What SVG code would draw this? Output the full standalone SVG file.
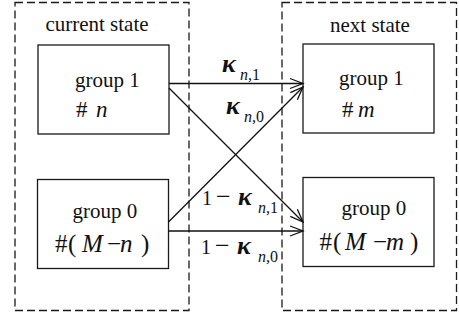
<svg xmlns="http://www.w3.org/2000/svg" width="459" height="320" viewBox="0 0 459 320" font-family="'Liberation Serif', 'DejaVu Serif', 'Times New Roman', serif">
<style>
.frame{fill:none;stroke:#1a1a1a;stroke-width:1.3;stroke-dasharray:8,4}
.box{fill:#fff;stroke:#1a1a1a;stroke-width:1.3}
text{font-family:'Liberation Serif','DejaVu Serif',serif;fill:#111}
.lab{font-size:21px}
.it{font-style:italic}
.k{font-style:italic;font-weight:bold;font-size:26px}
.sub{font-style:italic;font-size:16px}
.conn{stroke:#111;stroke-width:1.3;fill:none;marker-end:url(#arr)}
</style>
<defs>
<marker id="arr" markerUnits="userSpaceOnUse" markerWidth="16" markerHeight="14" viewBox="-14 -7 16 14" refX="0" refY="0" orient="auto">
<path d="M-13,-5 L0,0 L-13,5" fill="none" stroke="#111" stroke-width="1.3"/>
</marker>
</defs>
<g id="current-state">
<rect class="frame" x="15" y="2.5" width="174" height="308"/>
<text class="lab" x="97" y="31" text-anchor="middle">current state</text>
</g>
<g id="next-state">
<rect class="frame" x="282" y="2.5" width="174.5" height="308"/>
<text class="lab" x="370" y="32" text-anchor="middle">next state</text>
</g>
<g id="cur-group1">
<rect class="box" x="38" y="45" width="131" height="89"/>
<text class="lab" x="75" y="87">group 1</text>
<text font-size="23" y="117"><tspan x="76">#</tspan><tspan x="96" class="it">n</tspan></text>
</g>
<g id="cur-group0">
<rect class="box" x="37.5" y="179.5" width="131" height="89"/>
<text class="lab" x="72.5" y="218">group 0</text>
<text font-size="25" y="252"><tspan x="55">#</tspan><tspan x="68">(</tspan><tspan x="82" class="it">M</tspan><tspan x="107">−</tspan><tspan x="120" class="it">n</tspan><tspan x="141">)</tspan></text>
</g>
<g id="next-group1">
<rect class="box" x="303" y="44" width="131" height="89"/>
<text class="lab" x="339" y="85">group 1</text>
<text font-size="23" y="117"><tspan x="342">#</tspan><tspan x="358" class="it">m</tspan></text>
</g>
<g id="next-group0">
<rect class="box" x="303" y="177.5" width="131" height="89"/>
<text class="lab" x="341.5" y="215">group 0</text>
<text font-size="25" y="250"><tspan x="319.5">#</tspan><tspan x="333">(</tspan><tspan x="345" class="it">M</tspan><tspan x="373">−</tspan><tspan x="386" class="it">m</tspan><tspan x="410">)</tspan></text>
</g>
<g id="connectors">
<line class="conn" x1="169" y1="83.5" x2="303" y2="83.5"/>
<line class="conn" x1="169" y1="88" x2="303" y2="222"/>
<line class="conn" x1="168.5" y1="222" x2="303" y2="87"/>
<line class="conn" x1="168.5" y1="231" x2="303" y2="231"/>
<text y="72"><tspan x="222" class="k">κ</tspan><tspan x="240" y="80" class="sub">n,</tspan><tspan y="80" font-size="16">1</tspan></text>
<text y="114"><tspan x="226" class="k">κ</tspan><tspan x="244" y="122" class="sub">n,</tspan><tspan y="122" font-size="16">0</tspan></text>
<text y="205"><tspan x="202" font-size="20">1</tspan><tspan x="216" font-size="26">−</tspan><tspan x="238" class="k">κ</tspan><tspan x="258" y="213" class="sub">n,</tspan><tspan y="213" font-size="16">1</tspan></text>
<text y="254"><tspan x="201" font-size="20">1</tspan><tspan x="215" font-size="26">−</tspan><tspan x="237" class="k">κ</tspan><tspan x="258" y="262" class="sub">n,</tspan><tspan y="262" font-size="16">0</tspan></text>
</g>
</svg>
